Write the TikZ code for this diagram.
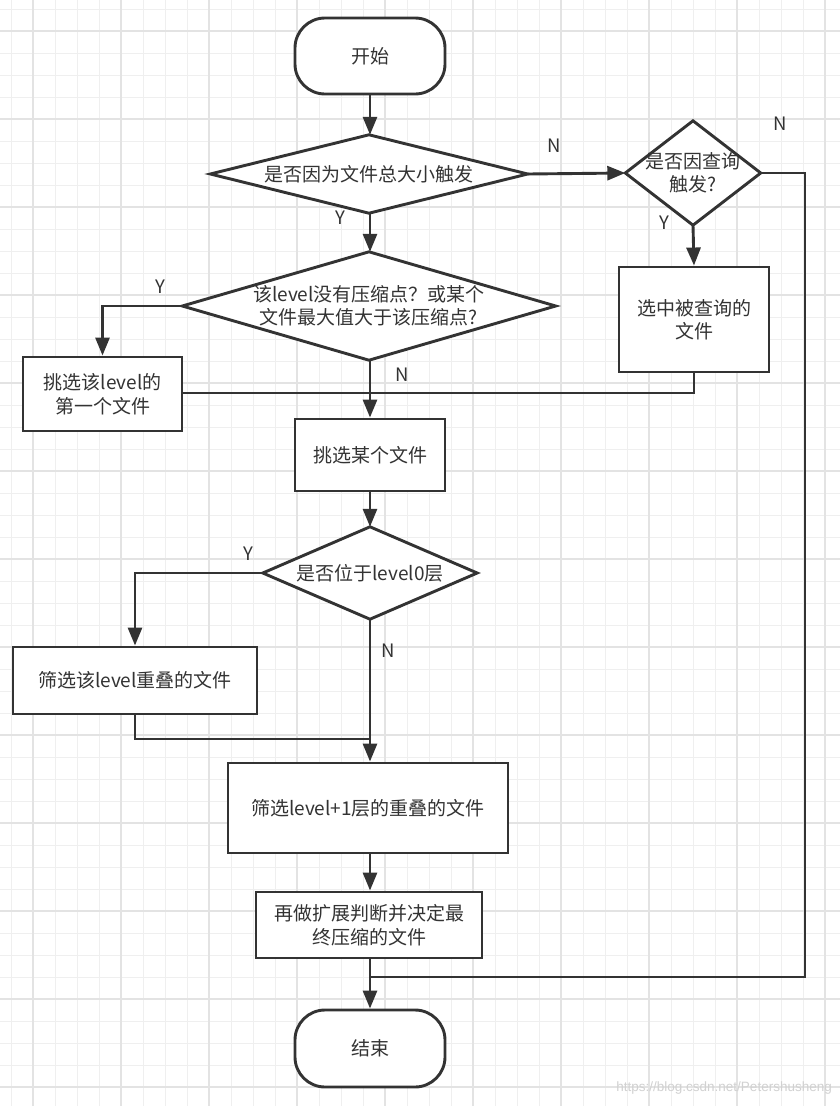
\documentclass[tikz,border=0pt]{standalone}
\usepackage{fontspec}
\setmainfont{Noto Sans CJK SC}
\newfontfamily\wmfont{Liberation Sans}
\usetikzlibrary{arrows.meta}
\definecolor{ink}{HTML}{333333}
\definecolor{gridminor}{HTML}{EFEFEF}
\definecolor{gridmajor}{HTML}{E3E3E3}
\tikzset{
  base/.style={font=\fontsize{19}{23.5}\selectfont, text=ink, align=center, inner sep=0pt},
  termbox/.style={base, draw=ink, line width=2.9pt, fill=white, rounded corners=30pt, minimum width=150pt, minimum height=76pt},
  procbox/.style={base, draw=ink, line width=2.9pt, fill=white},
  decbox/.style={base, draw=none},
  flow/.style={draw=ink, line width=2.9pt, -{Triangle[length=18pt,width=14pt]}},
  plain/.style={draw=ink, line width=2.9pt},
  lbl/.style={font=\fontsize{18.5}{22}\selectfont, text=ink, inner sep=0pt},
}
\begin{document}
\begin{tikzpicture}[x=1pt,y=-1pt]
\useasboundingbox (0,0) rectangle (840,1106);
\fill[white] (0,0) rectangle (840,1106);
% grid
\foreach \x in {11,33,...,839} \draw[gridminor, line width=1pt] (\x,0) -- (\x,1106);
\foreach \y in {9,31,...,1105} \draw[gridminor, line width=1pt] (0,\y) -- (840,\y);
\foreach \x in {33,121,...,839} \draw[gridmajor, line width=1.5pt] (\x,0) -- (\x,1106);
\foreach \y in {31,119,...,1105} \draw[gridmajor, line width=1.5pt] (0,\y) -- (840,\y);

% nodes
\node[termbox] (start) at (370,56) {开始};

\node[decbox, minimum width=317pt, minimum height=78pt] (d1) at (369,174) {};
\draw[plain, fill=white] (d1.north) -- (d1.east) -- (d1.south) -- (d1.west) -- cycle;
\node[base] (t1) at (d1) {是否因为文件总大小触发};

\node[decbox, minimum width=135pt, minimum height=104pt] (d4) at (693,173) {};
\draw[plain, fill=white] (d4.north) -- (d4.east) -- (d4.south) -- (d4.west) -- cycle;
\node[base] (t4) at (d4) {是否因查询\\触发?};

\node[decbox, minimum width=373pt, minimum height=108pt] (d2) at (369,306) {};
\draw[plain, fill=white] (d2.north) -- (d2.east) -- (d2.south) -- (d2.west) -- cycle;
\node[base] (t2) at (d2) {该level没有压缩点？或某个\\文件最大值大于该压缩点?};

\node[procbox, minimum width=150pt, minimum height=105pt] (b2) at (694,319.5) {选中被查询的\\文件};
\node[procbox, minimum width=159pt, minimum height=74pt] (b1) at (102.5,394) {挑选该level的\\第一个文件};
\node[procbox, minimum width=150pt, minimum height=72pt] (b3) at (370,455) {挑选某个文件};

\node[decbox, minimum width=214pt, minimum height=92pt] (d3) at (370,573) {};
\draw[plain, fill=white] (d3.north) -- (d3.east) -- (d3.south) -- (d3.west) -- cycle;
\node[base] (t3) at (d3) {是否位于level0层};

\node[procbox, minimum width=244pt, minimum height=67pt] (b4) at (135,680.5) {筛选该level重叠的文件};
\node[procbox, minimum width=280pt, minimum height=90pt] (b5) at (368,808) {筛选level+1层的重叠的文件};
\node[procbox, minimum width=226pt, minimum height=66pt] (b6) at (369,925) {再做扩展判断并决定最\\终压缩的文件};
\node[termbox, minimum height=77pt] (end) at (370,1048.5) {结束};

% junctions
\coordinate (j1) at (370,393);
\coordinate (j2) at (370,739);
\coordinate (r1) at (805,977);
\coordinate (j3) at (370,977);

% connectors
\draw[flow] (start.south) -- (start.south |- d1.north);
\draw[flow] (d1.east) -- (d4.west);
\draw[flow] (d1.south -| start.south) -- (start.south |- d2.north);
\draw[flow] (d2.west) -| (b1.north);
\draw[flow] (d2.south -| j1) -- (j1 |- b3.north);
\draw[plain] (b1.east |- j1) -- (j1);
\draw[flow] (d4.south) -- (b2.north);
\draw[plain] (b2.south) |- (j1);
\draw[plain] (d4.east) -| (r1) -- (j3);
\draw[flow] (b3.south -| j1) -- (j1 |- d3.north);
\draw[flow] (d3.west) -| (b4.north);
\draw[plain] (b4.south) |- (j2);
\draw[flow] (d3.south) -- (d3.south |- b5.north);
\draw[flow] (b5.south -| j1) -- (j1 |- b6.north);
\draw[flow] (b6.south -| j1) -- (j1 |- end.north);

% labels
\node[lbl] (lN1) at (554,146) {N};
\node[lbl] (lN2) at (780,124) {N};
\node[lbl] (lY1) at (340,218) {Y};
\node[lbl] (lY2) at (664,223) {Y};
\node[lbl] (lY3) at (160,287) {Y};
\node[lbl] (lN3) at (402,375) {N};
\node[lbl] (lY4) at (248,554) {Y};
\node[lbl] (lN4) at (388,651) {N};

% watermark
\node[font=\wmfont\fontsize{13.5}{16}\selectfont, text=black!18, anchor=east, inner sep=0pt] (wm) at (832,1088) {https://blog.csdn.net/Petershusheng};
\end{tikzpicture}
\end{document}
